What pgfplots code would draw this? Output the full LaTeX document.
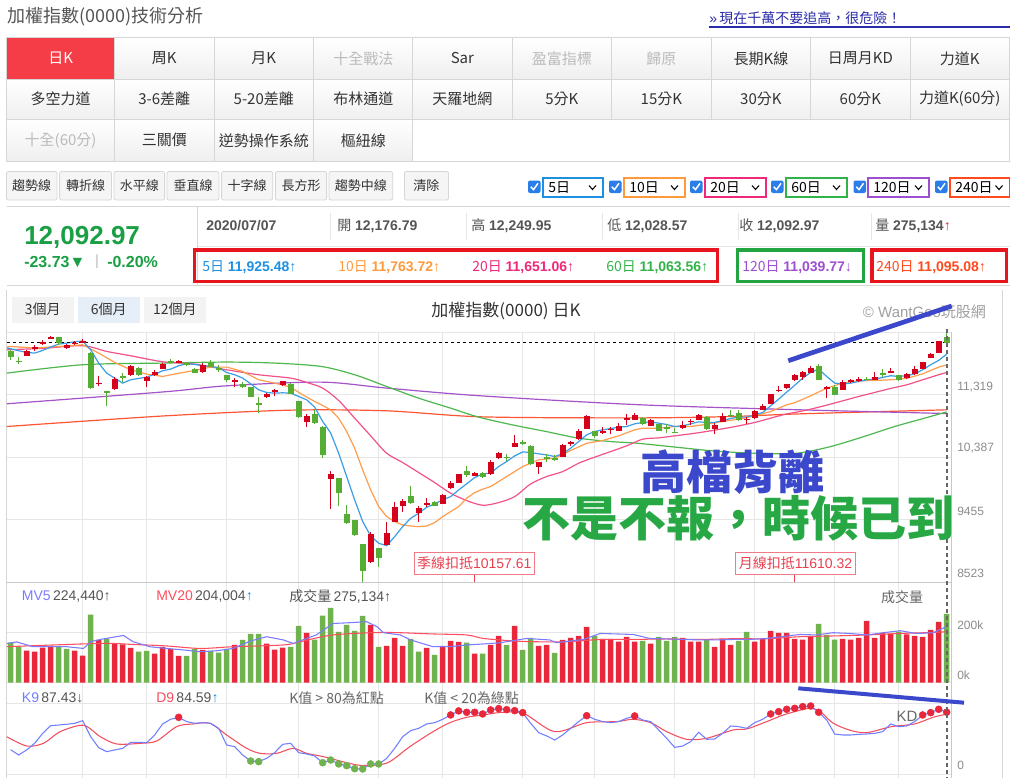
\documentclass[border=0pt]{standalone}
\usepackage{fontspec}
\setmainfont{Liberation Sans}
\newfontfamily\cjk{Noto Sans CJK TC}
\usepackage{pgfplots}
\pgfplotsset{compat=1.18}
\usepackage{pgfplotstable}

\definecolor{tdark}{HTML}{333333}
\definecolor{tgray}{HTML}{555555}
\definecolor{tmid}{HTML}{666666}
\definecolor{tlight}{HTML}{8C8C8C}
\definecolor{tcopy}{HTML}{A0A0A0}
\definecolor{tdis}{HTML}{BBBBBB}
\definecolor{bord}{HTML}{D6D6D6}
\definecolor{cellbot}{HTML}{EFEFEF}
\definecolor{btnbg}{HTML}{F5F5F5}
\definecolor{actred}{HTML}{F43D47}
\definecolor{linkblue}{HTML}{2B2BA8}
\definecolor{upgreen}{HTML}{1A9F45}
\definecolor{boxred}{HTML}{E8141E}
\definecolor{boxgreen}{HTML}{22A541}
\definecolor{cbblue}{HTML}{2B7DE9}
\definecolor{ma5}{HTML}{3A9EE4}
\definecolor{ma10}{HTML}{FF9D4D}
\definecolor{ma20}{HTML}{F2528A}
\definecolor{ma60}{HTML}{4DB84D}
\definecolor{ma120}{HTML}{A553C9}
\definecolor{ma240}{HTML}{FF5533}
\definecolor{s5}{HTML}{1E90E0}
\definecolor{s10}{HTML}{FF9A3C}
\definecolor{s20}{HTML}{F0287A}
\definecolor{s60}{HTML}{32B34A}
\definecolor{s120}{HTML}{9D4FD0}
\definecolor{s240}{HTML}{FF4A1E}
\definecolor{kred}{HTML}{D4001C}
\definecolor{kgreen}{HTML}{55AD33}
\definecolor{vred}{HTML}{E8283A}
\definecolor{vgreen}{HTML}{70B24D}
\definecolor{mv5}{HTML}{7B7BFF}
\definecolor{mv20}{HTML}{FF4D5E}
\definecolor{kline}{HTML}{6F7FFF}
\definecolor{dline}{HTML}{F2505E}
\definecolor{gridc}{HTML}{E6E6E6}
\definecolor{axisc}{HTML}{C8C8C8}
\definecolor{annblue}{HTML}{3B48CC}
\definecolor{anngreen}{HTML}{27A845}
\definecolor{tagred}{HTML}{E8404F}
\definecolor{tagbord}{HTML}{F07A85}
\definecolor{selbg}{HTML}{E6EEF8}
\definecolor{rbg}{HTML}{F3F3F3}

\newcommand\cell[6]{%
 \shade[top color=white, bottom color=cellbot] (#1,#3) rectangle (#2,#4);
 \draw[bord, line width=0.6pt] (#1,#3) rectangle (#2,#4);
 \node[inner sep=0, text=#6] at ({(#1+#2)/2},{(#3+#4)/2}) {\fontsize{11.25pt}{13pt}\selectfont\cjk #5};}
\newcommand\tbtn[3]{%
 \draw[bord, fill=btnbg, rounded corners=1.5pt, line width=0.6pt] (#1,171.5) rectangle (#2,200);
 \node[inner sep=0, text=tdark] at ({(#1+#2)/2},186) {\fontsize{9.75pt}{11pt}\selectfont\cjk #3};}
\newcommand\msel[5]{%
 \fill[cbblue, rounded corners=1.5pt] (#1,180.5) rectangle ({#1+12.5},193);
 \draw[white, line width=1.1pt] ({#1+2.8},186.8)--({#1+5.5},189.6)--({#1+10},183.3);
 \draw[#4, line width=1.3pt] (#2,178.3) rectangle (#3,197.3);
 \node[anchor=west, inner sep=0, text=black] at ({#2+5},188) {\fontsize{10.5pt}{12pt}\selectfont\cjk #5};
 \draw[black, line width=0.8pt] ({#3-14},185.5)--({#3-10.5},189.5)--({#3-7},185.5);}

\pgfplotsset{candle/.style={draw=none, no markers, forget plot}}

\begin{document}

\pgfplotstableread{
i O H L C
2 11896 11991 11891 11976
3 12003 12065 11966 12025
4 12070 12130 12055 12113
5 12165 12198 12155 12180
7 12010 12075 12005 12067
8 12085 12120 12065 12090
9 12105 12150 12090 12119
11 11485 11603 11443 11495
13 11404 11583 11394 11556
15 11608 11762 11603 11749
17 11518 11593 11428 11588
18 11608 11687 11603 11664
19 11702 11792 11697 11774
21 11802 11842 11797 11816
24 11652 11792 11650 11760
28 11503 11573 11433 11540
32 11279 11350 11274 11334
33 11364 11399 11304 11389
34 11458 11528 11453 11523
37 10911 11035 10846 11006
40 10060 10190 9622 10140
45 8821 9269 8816 9239
47 9080 9423 9075 9259
48 9428 9717 9423 9642
49 9667 9762 9573 9732
51 9562 9662 9423 9627
52 9687 9777 9642 9707
54 9697 9836 9692 9826
55 9926 10040 9921 9999
56 10010 10140 10000 10135
58 10110 10175 10105 10158
60 10135 10349 10130 10324
61 10374 10463 10364 10448
63 10548 10717 10543 10597
66 10249 10314 10145 10314
69 10398 10583 10394 10573
70 10578 10632 10553 10617
71 10657 10802 10652 10782
72 10816 11020 10811 11005
74 10757 10841 10737 10777
75 10796 10846 10732 10811
76 10777 10896 10772 10856
77 10956 11040 10876 10966
78 10946 11050 10941 11015
80 10861 10956 10856 10946
84 10826 10921 10816 10866
85 10916 10956 10871 10926
86 10941 11040 10936 11015
88 10811 10896 10732 10871
89 10911 11045 10906 11005
92 10946 10986 10886 10961
93 10966 11095 10961 11075
94 11095 11185 11090 11145
95 11180 11334 11175 11329
96 11379 11443 11354 11394
97 11414 11483 11409 11478
98 11533 11627 11528 11610
99 11578 11667 11543 11652
100 11642 11752 11637 11722
102 11418 11448 11269 11433
104 11389 11533 11384 11503
105 11508 11558 11493 11543
106 11533 11578 11503 11553
108 11543 11652 11538 11583
110 11657 11712 11652 11667
112 11563 11642 11558 11632
113 11622 11742 11617 11702
114 11702 11812 11697 11807
115 11871 11941 11866 11921
116 11941 12125 11936 12117
}\redK

\pgfplotstableread{
i O H L C
0 11976 11986 11831 11881
1 11823 11890 11785 11817
6 12180 12185 12060 12092
10 11941 11951 11409 11422
12 11374 11379 11145 11359
14 11598 11637 11508 11583
16 11722 11727 11603 11613
20 11822 11851 11787 11792
22 11787 11790 11747 11763
23 11702 11722 11647 11648
25 11792 11837 11727 11732
26 11722 11762 11662 11686
27 11613 11618 11513 11535
29 11478 11503 11414 11433
30 11433 11438 11289 11292
31 11190 11289 11055 11180
35 11483 11493 11324 11329
36 11224 11229 10976 10986
38 11030 11085 10891 10896
39 10846 10851 10374 10418
41 10075 10080 9662 9851
42 9543 9677 9388 9403
43 9448 9453 9219 9224
44 9090 9095 8523 8687
46 9030 9035 8746 8891
50 9811 9960 9697 9702
53 9727 9732 9657 9662
57 10180 10259 10100 10120
59 10150 10175 10075 10100
62 10394 10438 10339 10384
64 10617 10647 10572 10578
65 10553 10563 10279 10284
67 10389 10438 10319 10379
68 10384 10414 10339 10344
73 10777 10782 10672 10712
79 10971 10986 10866 10881
81 10886 10891 10777 10782
82 10836 10881 10752 10826
83 10767 10826 10742 10757
87 10986 10996 10801 10806
90 11020 11085 10986 11010
91 11045 11095 10931 10936
101 11752 11782 11533 11543
103 11433 11463 11309 11314
107 11558 11588 11533 11548
109 11637 11702 11588 11622
111 11613 11618 11523 11533
117 12176.79 12249.95 12028.57 12092.97
}\greenK

\pgfplotstableread{
i V
2 128000
3 124000
4 140000
5 147000
8 128000
9 108000
11 171000
13 156000
14 153000
15 139000
18 116000
19 143000
20 135000
21 107000
24 131000
28 151000
32 156000
33 132000
34 140000
37 199000
45 231000
47 147000
48 179000
49 147000
52 139000
54 147000
55 167000
56 163000
58 116000
60 151000
61 187000
63 227000
66 147000
67 151000
69 171000
70 179000
71 187000
72 223000
74 175000
75 175000
76 164000
77 183000
78 164000
80 156000
84 179000
85 164000
86 164000
88 143000
89 175000
90 151000
93 164000
94 175000
95 207000
96 199000
97 199000
98 175000
99 172000
100 183000
104 175000
105 172000
106 179000
107 247000
108 179000
109 199000
110 196000
112 193000
113 187000
114 183000
115 211000
116 243000
}\redV

\pgfplotstableread{
i V
0 160000
1 144000
6 143000
7 135000
10 272000
12 176000
16 124000
17 127000
22 107000
23 135000
25 127000
26 120000
27 135000
29 171000
30 195000
31 195000
35 143000
36 227000
38 172000
39 268000
40 299000
41 203000
42 231000
43 207000
44 267000
46 143000
50 175000
51 124000
53 111000
57 160000
59 116000
62 151000
64 131000
65 179000
68 119000
73 187000
79 167000
81 183000
82 167000
83 183000
87 171000
91 167000
92 203000
101 235000
102 191000
103 172000
111 204000
117 275134
}\greenV

\pgfplotstableread{
i K
0 34.4
1 26.9
2 34
3 43.4
4 57.5
5 68.4
6 69.3
7 70.3
8 71.7
9 75.5
10 52.8
11 37.3
12 31.6
13 34
14 36.3
15 44.8
16 44.8
17 44.3
18 55.2
19 70.8
20 77.4
21 80.2
22 74.1
23 71.7
24 72.6
25 71.7
26 64.6
27 41
28 38.7
29 26.9
30 18.4
31 17.5
32 22.2
33 30.2
34 42
35 43.4
36 30.2
37 28.3
38 25.5
39 16
40 19.8
41 14.2
42 11.8
43 7.5
44 7.1
45 14.2
46 14.2
47 22
48 36.3
49 52.8
50 61.3
51 64.6
52 70.8
53 72.6
54 77.4
55 83.5
56 89.2
57 87.3
58 87.3
59 84.9
60 90.6
61 92.5
62 91
63 89.6
64 86.8
65 71.7
66 58.5
67 53.8
68 48.1
69 55.2
70 64.6
71 74.1
72 82.5
73 77.4
74 74.1
75 72.6
76 74.1
77 78.8
78 82.1
79 76.4
80 74.1
81 62.3
82 50.5
83 37.7
84 39.6
85 45.8
86 59
87 49.1
88 49.5
89 57.5
90 67.9
91 67
92 64.6
93 72.6
94 77.4
95 84.9
96 88.2
97 91.5
98 92.9
99 95.3
100 96.2
101 87.3
102 76.4
103 56.6
104 55.2
105 55.2
106 56.1
107 56.6
108 57.5
109 59.9
110 70.8
111 67
112 67.9
113 74.1
114 83.5
115 86.8
116 91.5
117 87.43
}\Ktab

\begin{tikzpicture}
\useasboundingbox (0,0) rectangle (758.25pt,-583.5pt);
\fill[white] (0,0) rectangle (758.25pt,-583.5pt);

\begin{scope}[x=0.75pt,y=-0.75pt]
% header
\node[anchor=west, inner sep=0, text=tgray] at (7,17) {\fontsize{13.5pt}{16pt}\selectfont\cjk 加權指數(0000)技術分析};
\node[anchor=west, inner sep=0, text=linkblue] at (709,18) {\fontsize{10.5pt}{12pt}\selectfont »\,{\cjk 現在千萬不要追高，很危險！}};
\draw[linkblue, line width=1.1pt] (709,27)--(1009.5,27);

% button grid
\fill[actred] (6.5,37.7) rectangle (114.7,79);
\node[inner sep=0, text=white] at (60.6,58.3) {\fontsize{11.25pt}{13pt}\selectfont\cjk 日K};
\cell{114.7}{213.9}{37.7}{79}{周K}{tdark}
\cell{213.9}{313.7}{37.7}{79}{月K}{tdark}
\cell{313.7}{412.8}{37.7}{79}{十全戰法}{tdis}
\cell{412.8}{512}{37.7}{79}{Sar}{tdark}
\cell{512}{611.8}{37.7}{79}{盈富指標}{tdis}
\cell{611.8}{711}{37.7}{79}{歸原}{tdis}
\cell{711}{810.8}{37.7}{79}{長期K線}{tdark}
\cell{810.8}{910}{37.7}{79}{日周月KD}{tdark}
\cell{910}{1009.5}{37.7}{79}{力道K}{tdark}
\cell{6.5}{114.7}{79}{119.3}{多空力道}{tdark}
\cell{114.7}{213.9}{79}{119.3}{3-6差離}{tdark}
\cell{213.9}{313.7}{79}{119.3}{5-20差離}{tdark}
\cell{313.7}{412.8}{79}{119.3}{布林通道}{tdark}
\cell{412.8}{512}{79}{119.3}{天羅地網}{tdark}
\cell{512}{611.8}{79}{119.3}{5分K}{tdark}
\cell{611.8}{711}{79}{119.3}{15分K}{tdark}
\cell{711}{810.8}{79}{119.3}{30分K}{tdark}
\cell{810.8}{910}{79}{119.3}{60分K}{tdark}
\cell{910}{1009.5}{79}{119.3}{力道K(60分)}{tdark}
\cell{6.5}{114.7}{119.3}{161.3}{十全(60分)}{tdis}
\cell{114.7}{213.9}{119.3}{161.3}{三關價}{tdark}
\cell{213.9}{313.7}{119.3}{161.3}{逆勢操作系統}{tdark}
\cell{313.7}{412.8}{119.3}{161.3}{樞紐線}{tdark}
\draw[bord, line width=0.6pt] (6.5,37.7) rectangle (1009.5,161.3);

% toolbar
\tbtn{6.5}{57}{趨勢線}
\tbtn{59.6}{111.5}{轉折線}
\tbtn{114}{164.6}{水平線}
\tbtn{167}{219}{垂直線}
\tbtn{221.6}{272.8}{十字線}
\tbtn{275.4}{326.6}{長方形}
\tbtn{329}{392.7}{趨勢中線}
\tbtn{404.4}{448.5}{清除}
\msel{528}{543}{603}{s5}{5日}
\msel{609}{624}{685}{s10}{10日}
\msel{690}{705}{766}{s20}{20日}
\msel{771}{786}{847}{s60}{60日}
\msel{853.5}{868}{929}{s120}{120日}
\msel{935}{950}{1009.5}{s240}{240日}

% info panel
\draw[bord, line width=0.6pt] (6.5,206.7)--(1009.5,206.7);
\draw[bord, line width=0.6pt] (6.5,285.7)--(1009.5,285.7);
\draw[bord, line width=0.6pt] (197.7,206.7)--(197.7,285.7);
\draw[gridc, line width=0.6pt] (197.7,246.7)--(1009.5,246.7);
\foreach \sx in {330.5,466.6,602.7,738.8,871.7} \draw[gridc, line width=0.6pt] (\sx,213)--(\sx,240);
\node[anchor=west, inner sep=0, text=upgreen] at (24,237.5) {\fontsize{19.5pt}{21pt}\selectfont\bfseries 12,092.97};
\node[anchor=west, inner sep=0, text=upgreen] at (24,262) {\fontsize{12pt}{13pt}\selectfont\bfseries -23.73▼};
\node[inner sep=0, text=tdis] at (97,262) {\fontsize{11pt}{12pt}\selectfont |};
\node[anchor=west, inner sep=0, text=upgreen] at (107,262) {\fontsize{12pt}{13pt}\selectfont\bfseries -0.20\%};
\node[anchor=west, inner sep=0, text=tgray] at (206,226) {\fontsize{10.5pt}{12pt}\selectfont\bfseries 2020/07/07};
\node[anchor=west, inner sep=0, text=tgray] at (337,226) {\fontsize{10.5pt}{12pt}\selectfont{\cjk 開} \textbf{12,176.79}};
\node[anchor=west, inner sep=0, text=tgray] at (471,226) {\fontsize{10.5pt}{12pt}\selectfont{\cjk 高} \textbf{12,249.95}};
\node[anchor=west, inner sep=0, text=tgray] at (607,226) {\fontsize{10.5pt}{12pt}\selectfont{\cjk 低} \textbf{12,028.57}};
\node[anchor=west, inner sep=0, text=tgray] at (739,226) {\fontsize{10.5pt}{12pt}\selectfont{\cjk 收} \textbf{12,092.97}};
\node[anchor=west, inner sep=0, text=tgray] at (875,226) {\fontsize{10.5pt}{12pt}\selectfont{\cjk 量} \textbf{275,134}\textcolor{vred}{↑}};
\node[anchor=west, inner sep=0, text=s5] at (202,266.7) {\fontsize{10.5pt}{12pt}\selectfont{\cjk 5日} \textbf{11,925.48}↑};
\node[anchor=west, inner sep=0, text=s10] at (338,266.7) {\fontsize{10.5pt}{12pt}\selectfont{\cjk 10日} \textbf{11,763.72}↑};
\node[anchor=west, inner sep=0, text=s20] at (472,266.7) {\fontsize{10.5pt}{12pt}\selectfont{\cjk 20日} \textbf{11,651.06}↑};
\node[anchor=west, inner sep=0, text=s60] at (606,266.7) {\fontsize{10.5pt}{12pt}\selectfont{\cjk 60日} \textbf{11,063.56}↑};
\node[anchor=west, inner sep=0, text=s120] at (742,266.7) {\fontsize{10.5pt}{12pt}\selectfont{\cjk 120日} \textbf{11,039.77}↓};
\node[anchor=west, inner sep=0, text=s240] at (876,266.7) {\fontsize{10.5pt}{12pt}\selectfont{\cjk 240日} \textbf{11,095.08}↑};
\draw[boxred, line width=2.5pt] (194.7,250) rectangle (717.8,281.6);
\draw[boxgreen, line width=2.5pt] (737.2,250) rectangle (863.6,281.6);
\draw[boxred, line width=2.5pt] (872,250) rectangle (1006.2,281.6);

% chart container
\draw[bord, line width=0.6pt] (6.7,290)--(6.7,778);
\draw[bord, line width=0.6pt] (1002,290)--(1002,778);
\fill[rbg] (11.7,296.7) rectangle (74,322.7);
\fill[selbg] (77.7,296.7) rectangle (140,322.7);
\fill[rbg] (144,296.7) rectangle (205.7,322.7);
\node[inner sep=0, text=tdark] at (42.8,309.7) {\fontsize{10.5pt}{12pt}\selectfont\cjk 3個月};
\node[inner sep=0, text=tdark] at (108.8,309.7) {\fontsize{10.5pt}{12pt}\selectfont\cjk 6個月};
\node[inner sep=0, text=tdark] at (174.8,309.7) {\fontsize{10.5pt}{12pt}\selectfont\cjk 12個月};
\node[inner sep=0, text=tdark] at (506,311) {\fontsize{12.75pt}{14pt}\selectfont\cjk 加權指數(0000) 日K};
\node[anchor=west, inner sep=0, text=tcopy] at (862.7,311.7) {\fontsize{11.25pt}{13pt}\selectfont © WantGoo{\cjk 玩股網}};

% grid lines
\foreach \gy in {394.8,457.3,519.8} \draw[gridc, line width=0.75pt] (7,\gy)--(951,\gy);
\draw[gridc, line width=0.75pt] (7,332.3)--(951,332.3);
\draw[gridc, line width=0.75pt] (7,632.7)--(951,632.7);
\draw[gridc, line width=0.75pt] (7,682.7)--(951,682.7);
\draw[gridc, line width=0.75pt] (7,703.3)--(951,703.3);
\draw[gridc, line width=0.75pt] (7,774)--(951,774);
\foreach \gx in {82.67,146.67,226.67,298.67,378.67,442.67,522.67,594.67,674.67,754.67,834.67,898.67} \draw[gridc, line width=0.75pt] (\gx,332.3)--(\gx,778);
\draw[axisc, line width=0.75pt] (7,582.5)--(951,582.5);
\draw[axisc, line width=0.75pt] (951,332.3)--(951,778);
\end{scope}

% ===== price panel =====
\begin{axis}[at={(5.25pt,-436.725pt)}, anchor=south west, scale only axis,
 width=708pt, height=187.5pt, xmin=-0.458, xmax=117.54, ymin=8523, ymax=12251,
 hide axis, clip=true]
\addplot[ma240, line width=0.9pt, smooth] coordinates {(-0.5,10846) (19.3,11005) (35,11090) (47,11080) (59,10990) (78.7,10975) (90,10995) (98.7,11035) (117,11095)};
\addplot[ma120, line width=0.9pt, smooth] coordinates {(-0.5,11185) (19.3,11364) (27,11453) (38.8,11508) (47,11419) (58.7,11304) (78.7,11170) (98.7,11095) (117,11040)};
\addplot[ma60, line width=0.9pt, smooth] coordinates {(-0.5,11642) (9,11767) (19,11792) (27,11807) (33,11792) (38.8,11742) (43,11618) (47,11443) (51,11269) (55,11120) (58.5,10986) (62.7,10871) (66.9,10772) (71,10672) (75,10622) (78.3,10597) (83,10540) (88,10480) (93,10448) (98,10445) (102.2,10538) (106.4,10687) (110.5,10846) (114.7,10986) (117,11064)};
\addplot[ma20, line width=0.9pt, smooth] coordinates {(-0.5,11991) (4,12011) (9,12051) (12,11966) (15,11901) (19,11812) (23,11777) (27,11692) (31,11618) (35,11568) (37,11503) (39,11419) (41,11234) (43,10971) (45,10707) (47,10448) (49,10309) (51,10160) (53,10010) (55,9851) (57,9742) (59,9672) (61,9712) (63,9801) (65,9990) (67,10100) (69,10174) (71,10299) (73,10389) (75,10473) (77,10558) (79,10657) (81,10677) (83,10707) (85,10737) (87,10772) (89,10812) (91,10856) (93,10906) (95,10971) (97,11035) (98,11055) (100,11105) (102,11165) (104,11229) (106,11294) (108,11354) (110,11414) (112,11468) (114,11543) (116,11618) (117,11651)};
\addplot[ma10, line width=0.9pt] coordinates {(-0.5,12031) (0,12040) (3,12016) (6,12040) (9,12065) (11,11941) (13,11802) (15,11692) (17,11627) (19,11593) (21,11640) (23,11682) (25,11732) (27,11732) (29,11667) (31,11543) (33,11493) (35,11433) (36.5,11319) (38,11220) (39,11160) (40,11095) (41,10971) (42,10772) (43,10523) (44,10199) (45,9901) (46,9652) (47,9503) (48,9428) (49,9378) (50,9363) (51,9353) (52,9363) (53,9413) (54,9503) (55,9577) (56,9652) (57,9777) (58,9861) (59,9911) (60,9951) (62,10100) (64,10249) (66,10349) (68,10374) (70,10488) (72,10597) (74,10637) (76,10707) (78,10797) (79,10821) (81,10821) (83,10846) (85,10846) (87,10880) (89,10921) (91,10956) (93,11005) (95,11070) (97,11170) (98,11200) (100,11304) (102,11418) (104,11493) (106,11528) (108,11533) (110,11543) (112,11563) (114,11632) (116,11732) (117,11764)};
\addplot[ma5, line width=0.9pt] coordinates {(-0.5,12020) (0,12006) (1,11976) (2,11951) (3,11941) (4,11981) (5,12031) (6,12075) (7,12090) (8,12110) (9,12120) (10,11991) (11,11792) (12,11642) (13,11568) (14,11493) (15,11543) (16,11563) (17,11583) (18,11627) (19,11677) (20,11702) (21,11752) (22,11782) (23,11772) (24,11752) (25,11742) (26,11722) (27,11652) (28,11618) (29,11568) (30,11483) (31,11394) (32,11354) (33,11344) (34,11349) (35,11344) (36,11294) (37,11244) (38,11135) (39,10921) (40,10750) (41,10448) (42,10100) (43,9752) (44,9430) (45,9214) (46,9105) (47,9070) (48,9204) (49,9354) (50,9478) (51,9553) (52,9642) (53,9692) (54,9752) (55,9801) (56,9901) (57,9991) (58,10085) (59,10140) (60,10150) (61,10249) (62,10324) (63,10408) (64,10468) (65,10458) (66,10438) (67,10423) (68,10398) (69,10438) (70,10523) (71,10622) (72,10722) (73,10772) (74,10797) (75,10816) (76,10836) (77,10846) (78,10886) (79,10906) (80,10916) (81,10896) (82,10876) (83,10846) (84,10856) (85,10886) (86,10916) (87,10906) (88,10906) (89,10936) (90,10966) (91,10986) (92,10986) (93,11020) (94,11055) (95,11155) (96,11254) (97,11359) (98,11460) (99,11568) (100,11652) (101,11702) (102,11593) (103,11493) (104,11483) (105,11493) (106,11518) (107,11543) (108,11553) (109,11578) (110,11603) (111,11593) (112,11603) (113,11632) (114,11692) (115,11767) (116,11832) (117,11925)};
\addplot[black, line width=0.75pt, dash pattern=on 2.5pt off 2pt] coordinates {(-0.46,12092.97) (117,12092.97)};
% wicks
\addplot[candle, error bars/.cd, y dir=plus, y explicit, error mark=none, error bar style={draw=kred, line width=0.8pt}] table[x=i, y=L, y error expr=\thisrow{H}-\thisrow{L}] {\redK};
\addplot[candle, error bars/.cd, y dir=plus, y explicit, error mark=none, error bar style={draw=kgreen, line width=0.8pt}] table[x=i, y=L, y error expr=\thisrow{H}-\thisrow{L}] {\greenK};
% bodies
\addplot[candle, error bars/.cd, y dir=both, y explicit, error mark=none, error bar style={draw=kred, line width=4.6pt}] table[x=i, y expr={(\thisrow{O}+\thisrow{C})/2}, y error expr={max(abs(\thisrow{C}-\thisrow{O})/2,9)}] {\redK};
\addplot[candle, error bars/.cd, y dir=both, y explicit, error mark=none, error bar style={draw=kgreen, line width=4.6pt}] table[x=i, y expr={(\thisrow{O}+\thisrow{C})/2}, y error expr={max(abs(\thisrow{C}-\thisrow{O})/2,9)}] {\greenK};
\end{axis}

% ===== volume panel =====
\begin{axis}[at={(5.25pt,-512.025pt)}, anchor=south west, scale only axis,
 width=708pt, height=75pt, xmin=-0.458, xmax=117.54, ymin=0, ymax=400000,
 hide axis, clip=true]
\addplot[ybar, bar width=4.2pt, bar shift=0pt, fill=vred, draw=none] table[x=i, y=V] {\redV};
\addplot[ybar, bar width=4.2pt, bar shift=0pt, fill=vgreen, draw=none] table[x=i, y=V] {\greenV};
\addplot[mv20, line width=0.8pt, smooth] coordinates {(-0.5,144000) (11.2,157000) (15.3,153000) (19.5,147000) (23.7,137000) (27.8,144000) (34.1,151000) (36.2,164000) (40.3,191000) (46.6,201000) (52.8,195000) (57,191000) (59.1,177000) (62.4,168000) (65.3,164000) (69.5,164000) (73.7,173000) (77.8,173000) (82,175000) (86.2,173000) (90.3,176000) (94.5,176000) (98.7,184000) (102.8,187000) (107,191000) (111.2,197000) (115.3,201000) (117,204004)};
\addplot[mv5, line width=0.8pt] coordinates {(-0.5,157000) (0.75,163000) (2.8,144000) (7,144000) (9.1,137000) (10,164000) (11.2,173000) (14.1,189000) (15.3,164000) (17.4,144000) (19.5,137000) (21.6,131000) (23.7,124000) (25.8,128000) (27.8,137000) (30,167000) (32,184000) (34.1,171000) (35.3,157000) (37,177000) (38.2,191000) (40.3,237000) (42.4,240000) (44.5,244000) (45.8,224000) (46.6,200000) (48.7,191000) (50,171000) (52.8,144000) (54.9,144000) (57,151000) (59.1,155000) (61.2,160000) (64.5,177000) (67.4,171000) (68.2,160000) (71.6,173000) (73.7,197000) (77.8,193000) (79.9,177000) (82,175000) (86.2,171000) (88.3,171000) (90.3,173000) (92.4,173000) (94.5,177000) (98.7,193000) (100.7,191000) (102.8,200000) (104.9,197000) (107,191000) (109.1,200000) (111.2,208000) (113.2,197000) (115.3,200000) (117,224440)};
\end{axis}

% ===== KD panel =====
\begin{axis}[at={(5.25pt,-580.5pt)}, anchor=south west, scale only axis,
 width=708pt, height=68.25pt, xmin=-0.458, xmax=117.54, ymin=0, ymax=128.7,
 hide axis, clip=false]
\addplot[dline, line width=0.8pt, smooth] coordinates {(-0.5,52.8) (2,39.6) (4.1,43.4) (6.2,59.9) (9.1,68.9) (11.2,52.8) (13.25,42.5) (16.2,43.4) (18.25,46.7) (20.75,67) (22.8,70.8) (24.9,71.7) (27,55.2) (29.5,36.3) (31.2,29.2) (33.25,29.2) (35.3,36.3) (37,29.2) (39.1,24.5) (42,16) (43.7,12.3) (45.75,12.7) (47.4,17.5) (49.9,38.7) (52.8,59.9) (54.9,72.6) (57,80.2) (59.1,83.5) (61.2,87) (64.1,85.8) (68,59.9) (72,72.6) (75.75,74.1) (77.8,77.4) (80,72.6) (82,59.9) (84.5,49.1) (87,50.5) (90.3,62.3) (92,63.7) (94.5,74.1) (96.6,83.5) (99.1,91.5) (100.1,92.9) (101.2,88.2) (102.8,72) (104.9,62) (107,58.5) (110.1,67) (113,70.8) (115.3,80.2) (117,84.59)};
\addplot[kline, line width=0.8pt] table[x=i, y=K] {\Ktab};
\addplot[only marks, mark=*, mark size=2.6pt, color=vred] coordinates {(21,80.2) (55,83.5) (56,89.2) (57,87.3) (58,87.3) (59,84.9) (60,90.6) (61,92.5) (62,91) (63,89.6) (64,86.8) (72,82.5) (78,82.1) (95,84.9) (96,88.2) (97,91.5) (98,92.9) (99,95.3) (100,96.2) (101,87.3) (114,83.5) (115,86.8) (116,91.5) (117,87.43)};
\addplot[only marks, mark=*, mark size=2.6pt, color=vgreen] coordinates {(30,18.4) (31,17.5) (39,16) (40,19.8) (41,14.2) (42,11.8) (43,7.5) (44,7.1) (45,14.2) (46,14.2)};
\end{axis}

\begin{scope}[x=0.75pt,y=-0.75pt]
% axis labels
\node[anchor=west, inner sep=0, text=tlight] at (957,386.7) {\fontsize{9pt}{10pt}\selectfont 11,319};
\node[anchor=west, inner sep=0, text=tlight] at (957,448.3) {\fontsize{9pt}{10pt}\selectfont 10,387};
\node[anchor=west, inner sep=0, text=tlight] at (957,511.7) {\fontsize{9pt}{10pt}\selectfont 9455};
\node[anchor=west, inner sep=0, text=tlight] at (957,573.3) {\fontsize{9pt}{10pt}\selectfont 8523};
\node[anchor=west, inner sep=0, text=tlight] at (957,625) {\fontsize{9pt}{10pt}\selectfont 200k};
\node[anchor=west, inner sep=0, text=tlight] at (957,675) {\fontsize{9pt}{10pt}\selectfont 0k};
\node[anchor=west, inner sep=0, text=tlight] at (957,765) {\fontsize{9pt}{10pt}\selectfont 0};
\node[inner sep=0, text=tmid] at (902,596.7) {\fontsize{10.5pt}{12pt}\selectfont\cjk 成交量};
\node[inner sep=0, text=tmid] at (907,716.7) {\fontsize{11.25pt}{12pt}\selectfont KD};
% panel legends
\node[anchor=west, inner sep=0] at (21.7,596.7) {\fontsize{10.5pt}{12pt}\selectfont\textcolor{mv5}{MV5}\,\textcolor{tgray}{224,440↑}};
\node[anchor=west, inner sep=0] at (156,596.7) {\fontsize{10.5pt}{12pt}\selectfont\textcolor{mv20}{MV20}\,\textcolor{tgray}{204,004}\textcolor{s5}{↑}};
\node[anchor=west, inner sep=0, text=tgray] at (289,596.7) {\fontsize{10.5pt}{12pt}\selectfont{\cjk 成交量}\,275,134↑};
\node[anchor=west, inner sep=0] at (21.7,698.3) {\fontsize{10.5pt}{12pt}\selectfont\textcolor{kline}{K9}\,\textcolor{tgray}{87.43↓}};
\node[anchor=west, inner sep=0] at (156,698.3) {\fontsize{10.5pt}{12pt}\selectfont\textcolor{dline}{D9}\,\textcolor{tgray}{84.59}\textcolor{s5}{↑}};
\node[anchor=west, inner sep=0, text=tmid] at (289,698.3) {\fontsize{10.5pt}{12pt}\selectfont\cjk K值 > 80為紅點};
\node[anchor=west, inner sep=0, text=tmid] at (424,698.3) {\fontsize{10.5pt}{12pt}\selectfont\cjk K值 < 20為綠點};
% deduction tags
\draw[tagred, line width=0.75pt] (474.3,574.3)--(474.3,582.3);
\draw[tagred, line width=0.75pt] (794.3,574.3)--(794.3,582.3);
\node[draw=tagbord, fill=white, fill opacity=0.9, text opacity=1, text=tagred, inner sep=0, minimum width=90pt, minimum height=16.2pt, line width=0.75pt] at (474.3,563.5) {\fontsize{10.5pt}{12pt}\selectfont{\cjk 季線扣抵}10157.61};
\node[draw=tagbord, fill=white, fill opacity=0.9, text opacity=1, text=tagred, inner sep=0, minimum width=89.7pt, minimum height=16.2pt, line width=0.75pt] at (795.5,563.5) {\fontsize{10.5pt}{12pt}\selectfont{\cjk 月線扣抵}11610.32};
% crosshair
\draw[tmid, line width=1.5pt, dash pattern=on 3pt off 2.25pt] (946.7,329)--(946.7,778);
% annotations
\node[inner sep=0, text=annblue] at (732,472) {\fontsize{34.5pt}{36pt}\selectfont\cjk\bfseries 高檔背離};
\node[inner sep=0, text=anngreen] at (738,518) {\fontsize{36pt}{38pt}\selectfont\cjk\bfseries 不是不報，時候已到};
\draw[annblue, line width=3.5pt] (788.3,360.7)--(951.7,306);
\draw[annblue, line width=3pt] (798.3,688.3)--(964,702.7);
\end{scope}
\end{tikzpicture}
\end{document}
